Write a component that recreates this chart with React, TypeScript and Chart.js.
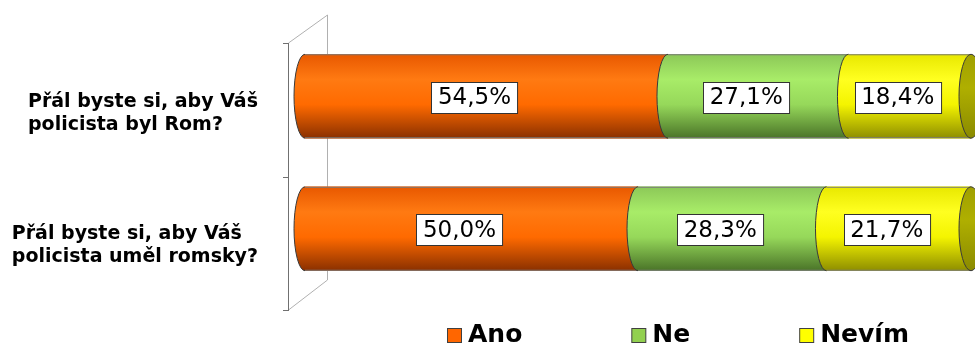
import React, { useEffect, useRef } from "react";
import { Chart, registerables } from "chart.js";

Chart.register(...registerables);

const categories: string[][] = [
  ["Přál byste si, aby Váš", "policista byl Rom?"],
  ["Přál byste si, aby Váš", "policista uměl romsky?"],
];
const seriesNames = ["Ano", "Ne", "Nevím"];
const anoValues = [54.5, 50.0];
const neValues = [27.1, 28.3];
const nevimValues = [18.4, 21.7];

const legendColors = ["#FF6600", "#92D050", "#FFFF00"];
// top, light, mid, dark for cylinder shading
const shades = [
  ["#E85800", "#FF7A12", "#FF6A00", "#8A3000"],
  ["#8CC858", "#A8EC68", "#96D85A", "#4A7428"],
  ["#E8E800", "#FFFF20", "#F4F400", "#8E8E00"],
];
const capColor = "#AFAF00";

const fmt = (v: number) => v.toFixed(1).replace(".", ",") + "%";

const cylinderPlugin = {
  id: "cylinder",
  beforeDatasetsDraw(chart: any) {
    const ctx = chart.ctx as CanvasRenderingContext2D;
    const ca = chart.chartArea;
    const fx = ca.left - 17;
    const ft = ca.top + 13;
    const fb = ca.bottom + 15;
    const bx = ca.left + 22;
    const bt = ca.top - 15;
    const bb = ca.bottom - 15;
    ctx.save();
    ctx.lineWidth = 1;
    ctx.strokeStyle = "#B0B0B0";
    ctx.beginPath();
    ctx.moveTo(fx + 0.5, ft);
    ctx.lineTo(bx + 0.5, bt);
    ctx.lineTo(bx + 0.5, bb);
    ctx.lineTo(fx + 0.5, fb);
    ctx.stroke();
    ctx.strokeStyle = "#707070";
    ctx.beginPath();
    ctx.moveTo(fx + 0.5, ft);
    ctx.lineTo(fx + 0.5, fb);
    const n = chart.data.labels.length;
    for (let k = 0; k <= n; k++) {
      const y = Math.round(ft + (k * (fb - ft)) / n) + 0.5;
      ctx.moveTo(fx - 5, y);
      ctx.lineTo(fx + 1, y);
    }
    ctx.stroke();
    ctx.restore();
  },
  afterDatasetsDraw(chart: any) {
    const ctx = chart.ctx as CanvasRenderingContext2D;
    const nds = chart.data.datasets.length;
    const nLabels = chart.data.labels.length;
    ctx.save();
    for (let j = 0; j < nLabels; j++) {
      for (let i = 0; i < nds; i++) {
        const meta = chart.getDatasetMeta(i);
        const el = meta.data[j];
        const p = el.getProps(["x", "y", "base", "height"], true);
        const y0 = p.y - p.height / 2;
        const y1 = p.y + p.height / 2;
        const rx = 11;
        const ry = p.height / 2;
        const s = shades[i];
        const g = ctx.createLinearGradient(0, y0, 0, y1);
        g.addColorStop(0, s[0]);
        g.addColorStop(0.3, s[1]);
        g.addColorStop(0.6, s[2]);
        g.addColorStop(1, s[3]);
        ctx.beginPath();
        ctx.moveTo(p.base, y0);
        ctx.lineTo(p.x, y0);
        ctx.lineTo(p.x, y1);
        ctx.lineTo(p.base, y1);
        ctx.ellipse(p.base, p.y, rx, ry, 0, Math.PI / 2, (3 * Math.PI) / 2);
        ctx.closePath();
        ctx.fillStyle = g;
        ctx.fill();
        ctx.strokeStyle = "#7A7A7A";
        ctx.lineWidth = 1;
        ctx.beginPath();
        ctx.moveTo(p.base, y0 + 0.5);
        ctx.lineTo(p.x, y0 + 0.5);
        ctx.moveTo(p.base, y1 - 0.5);
        ctx.lineTo(p.x, y1 - 0.5);
        ctx.stroke();
        ctx.strokeStyle = "#3A3A3A";
        ctx.beginPath();
        ctx.ellipse(p.base, p.y, rx, ry, 0, Math.PI / 2, (3 * Math.PI) / 2);
        ctx.stroke();
        if (i === nds - 1) {
          const cg = ctx.createLinearGradient(0, y0, 0, y1);
          cg.addColorStop(0, "#A0A000");
          cg.addColorStop(0.4, capColor);
          cg.addColorStop(1, "#8A8A00");
          ctx.beginPath();
          ctx.ellipse(p.x, p.y, rx + 1, ry, 0, 0, Math.PI * 2);
          ctx.fillStyle = cg;
          ctx.fill();
          ctx.strokeStyle = "#3A3A3A";
          ctx.stroke();
        }
      }
    }
    // value labels
    ctx.font = "23px 'DejaVu Sans'";
    ctx.textBaseline = "middle";
    ctx.textAlign = "center";
    for (let i = 0; i < nds; i++) {
      const meta = chart.getDatasetMeta(i);
      meta.data.forEach((el: any, j: number) => {
        const p = el.getProps(["x", "y", "base"], true);
        const txt = fmt(chart.data.datasets[i].data[j]);
        const w = ctx.measureText(txt).width;
        const cx = (p.x + p.base) / 2 - 12;
        const cy = p.y + 1;
        const bw = w + 13;
        const bh = 31;
        const bxl = Math.round(cx - bw / 2) + 0.5;
        const byt = Math.round(cy - bh / 2) + 0.5;
        ctx.fillStyle = "#FFFFFF";
        ctx.fillRect(bxl, byt, bw, bh);
        ctx.strokeStyle = "#333333";
        ctx.lineWidth = 1;
        ctx.strokeRect(bxl, byt, bw, bh);
        ctx.fillStyle = "#000000";
        ctx.fillText(txt, cx, cy + 1);
      });
    }
    // category labels
    const yScale = chart.scales.y;
    ctx.font = "bold 19px 'DejaVu Sans'";
    ctx.textAlign = "left";
    ctx.textBaseline = "alphabetic";
    ctx.fillStyle = "#000000";
    const rightEdge = 258;
    const lineH = 23;
    chart.data.labels.forEach((lab: string[], j: number) => {
      const cy = yScale.getPixelForValue(j) + 16;
      const maxW = Math.max(...lab.map((l) => ctx.measureText(l).width));
      const x = rightEdge - maxW;
      const firstBase = cy - ((lab.length - 1) * lineH) / 2 + 6;
      lab.forEach((l, k) => ctx.fillText(l, x, firstBase + k * lineH));
    });
    // legend
    ctx.font = "bold 25px 'DejaVu Sans'";
    ctx.textBaseline = "alphabetic";
    let lx = 447;
    const ly = 335;
    chart.data.datasets.forEach((ds: any) => {
      ctx.fillStyle = ds.backgroundColor;
      ctx.fillRect(lx + 0.5, ly - 7 + 0.5, 14, 14);
      ctx.strokeStyle = "#404040";
      ctx.lineWidth = 1;
      ctx.strokeRect(lx + 0.5, ly - 7 + 0.5, 14, 14);
      ctx.fillStyle = "#000000";
      ctx.fillText(ds.label, lx + 21, 342);
      lx += 21 + ctx.measureText(ds.label).width + 109;
    });
    ctx.restore();
  },
};

export default function App() {
  const ref = useRef<HTMLCanvasElement | null>(null);
  useEffect(() => {
    if (!ref.current) return;
    const chart = new Chart(ref.current, {
      type: "bar",
      data: {
        labels: categories,
        datasets: [
          { label: seriesNames[0], data: anoValues, backgroundColor: legendColors[0] },
          { label: seriesNames[1], data: neValues, backgroundColor: legendColors[1] },
          { label: seriesNames[2], data: nevimValues, backgroundColor: legendColors[2] },
        ],
      },
      options: {
        indexAxis: "y",
        responsive: false,
        maintainAspectRatio: false,
        animation: false,
        layout: { padding: { left: 305, right: 4, top: 30, bottom: 52 } },
        datasets: { bar: { barThickness: 84, borderWidth: 0 } },
        scales: {
          x: { stacked: true, min: 0, max: 100, display: false },
          y: { stacked: true, display: false },
        },
        plugins: { legend: { display: false }, tooltip: { enabled: false } },
      },
      plugins: [cylinderPlugin],
    } as any);
    return () => chart.destroy();
  }, []);
  return (
    <div style={{ position: "fixed", left: 0, top: 0, width: 975, height: 347, background: "#fff" }}>
      <canvas ref={ref} width={975} height={347} style={{ display: "block" }} />
    </div>
  );
}
